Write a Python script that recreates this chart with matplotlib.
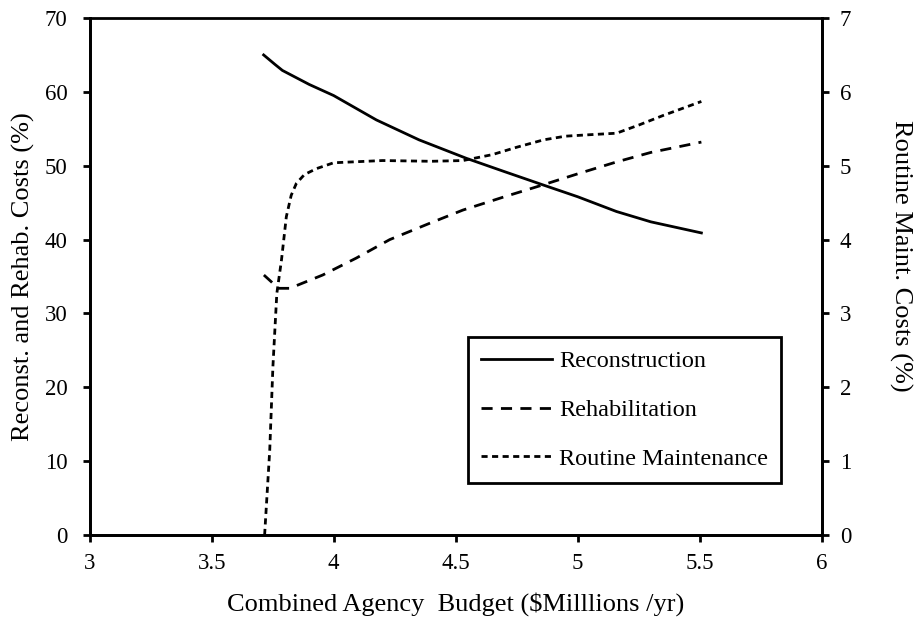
import matplotlib.pyplot as plt

plt.rcParams['font.family'] = ['Liberation Serif', 'DejaVu Serif']

# Reconstruction (left axis, %)
recon_x = [3.713, 3.76, 3.79, 3.9, 4.0, 4.175, 4.35, 4.544, 4.7, 4.858, 5.0, 5.159, 5.3, 5.507]
recon_y = [65.0, 63.7, 62.9, 61.0, 59.5, 56.2, 53.5, 51.0, 49.2, 47.4, 45.8, 43.8, 42.4, 40.9]

# Rehabilitation (left axis, %)
rehab_x = [3.714, 3.744, 3.771, 3.82, 3.955, 4.093, 4.23, 4.393, 4.53, 4.7, 4.857, 5.0, 5.158, 5.3, 5.507]
rehab_y = [35.2, 34.3, 33.4, 33.4, 35.2, 37.5, 40.0, 42.2, 44.0, 45.8, 47.4, 48.9, 50.5, 51.8, 53.2]

# Routine maintenance (right axis, %)
maint_x = [3.717, 3.738, 3.751, 3.767, 3.786, 3.806, 3.826, 3.847, 3.88, 3.929, 4.0, 4.2, 4.4,
           4.53, 4.65, 4.75, 4.86, 4.95, 5.05, 5.159, 5.25, 5.35, 5.507]
maint_y = [0.0, 1.15, 2.28, 3.27, 3.72, 4.31, 4.6, 4.76, 4.88, 4.96, 5.04, 5.07, 5.06,
           5.07, 5.15, 5.25, 5.35, 5.4, 5.42, 5.44, 5.55, 5.68, 5.87]

fig = plt.figure(figsize=(9.15, 6.21), dpi=100)
ax = fig.add_axes([0.098, 0.1385, 0.8, 0.8325])
ax2 = ax.twinx()

l1, = ax.plot(recon_x, recon_y, color='black', lw=2, ls='-')
l2, = ax.plot(rehab_x, rehab_y, color='black', lw=2, ls=(0, (4, 3)))
l3, = ax2.plot(maint_x, maint_y, color='black', lw=2, ls=(0, (2.2, 1.6)))

ax.set_xlim(3, 6)
ax.set_ylim(0, 70)
ax2.set_ylim(0, 7)
ax.set_xticks([3, 3.5, 4, 4.5, 5, 5.5, 6])
ax.set_xticklabels(['3', '3.5', '4', '4.5', '5', '5.5', '6'])
ax.set_yticks(range(0, 71, 10))
ax2.set_yticks(range(0, 8))

for a in (ax, ax2):
    for s in a.spines.values():
        s.set_linewidth(2)
    a.tick_params(labelsize=16.5, width=2, length=5, direction='out')
ax2.spines['top'].set_visible(False)
ax.tick_params(axis='x', pad=8)
ax.tick_params(axis='y', pad=11)
ax2.tick_params(axis='y', pad=8)

ax.set_xlabel('Combined Agency  Budget ($Milllions /yr)', fontsize=19)
ax.set_ylabel('Reconst. and Rehab. Costs (%)', fontsize=19)
ax2.set_ylabel('Routine Maint. Costs (%)', fontsize=19, rotation=270)
ax.yaxis.set_label_coords(-0.075, 0.50)
ax2.yaxis.set_label_coords(1.124, 0.54)
ax.xaxis.set_label_coords(0.5, -0.11)

leg = ax.legend([l1, l2, l3], ['Reconstruction', 'Rehabilitation', 'Routine Maintenance'],
                loc='lower right', bbox_to_anchor=(0.945, 0.10), fontsize=17.5,
                frameon=True, fancybox=False, edgecolor='black', framealpha=1,
                handlelength=2.9, labelspacing=1.1, borderpad=0.55, handletextpad=0.3,
                borderaxespad=0)
leg.get_frame().set_linewidth(2)

fig.savefig('out.png', dpi=100)
